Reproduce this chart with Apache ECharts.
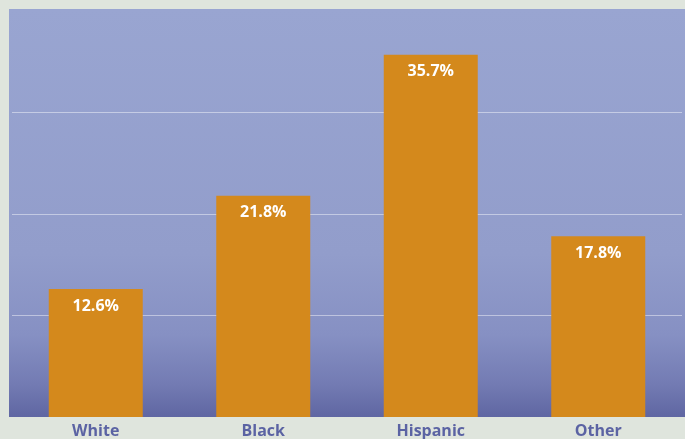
<!DOCTYPE html>
<html><head><meta charset="utf-8">
<script src="https://cdn.jsdelivr.net/npm/echarts@6/dist/echarts.min.js"></script>
<style>html,body{margin:0;padding:0;background:#dfe5dd;}#c{width:685px;height:439px;}</style>
</head><body><div id="c"></div>
<script>
const categories = ['White', 'Black', 'Hispanic', 'Other'];
const values = [12.6, 21.8, 35.7, 17.8];
const yTicks = [0, 10, 20, 30, 40];

const chart = echarts.init(document.getElementById('c'));
chart.setOption({
  backgroundColor: '#dfe5dd',
  animation: false,
  graphic: [{
    type: 'rect', z: -10, silent: true,
    shape: { x: 9, y: 9, width: 676, height: 408 },
    style: { fill: new echarts.graphic.LinearGradient(0, 0, 0, 1, [
      { offset: 0, color: '#99a5d1' },
      { offset: 0.6, color: '#929dcb' },
      { offset: 0.8, color: '#8690c3' },
      { offset: 0.92, color: '#737bb3' },
      { offset: 1, color: '#5f66a2' }
    ]) }
  }],
  grid: { left: 12, right: 3, top: 11, bottom: 22 },
  xAxis: {
    type: 'category', data: categories,
    axisLine: { show: false }, axisTick: { show: false },
    axisLabel: { color: '#5b63a3', fontFamily: 'Open Sans', fontWeight: 'bold', fontSize: 16, margin: 6 }
  },
  yAxis: {
    type: 'value', min: yTicks[0], max: yTicks[yTicks.length - 1], interval: 10,
    axisLabel: { show: false }, axisLine: { show: false }, axisTick: { show: false },
    splitLine: { show: true, showMinLine: false, showMaxLine: false, lineStyle: { color: 'rgba(255,255,255,0.45)', width: 1 } }
  },
  series: [{
    type: 'bar', data: values, barWidth: 94,
    itemStyle: { color: '#d4891c' },
    label: {
      show: true, position: 'insideTop', distance: 9,
      formatter: p => p.value.toFixed(1) + '%',
      color: '#ffffff', fontFamily: 'Open Sans', fontWeight: 'bold', fontSize: 16
    }
  }]
});
</script></body></html>
